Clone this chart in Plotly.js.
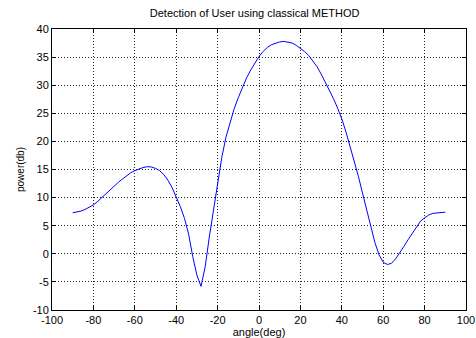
<!DOCTYPE html>
<html>
<head>
<meta charset="utf-8">
<script src="https://cdn.plot.ly/plotly-3.0.1.min.js"></script>
<style>html,body{margin:0;padding:0;background:#fff;}#chart{width:476px;height:338px;}</style>
</head>
<body>
<div id="chart"></div>
<script>
const angles = [-90,-88,-86,-84,-82,-80,-78,-76,-74,-72,-70,-68,-66,-64,-62,-60,-58,-56,-54,-52,-50,-48,-46,-44,-42,-40,-38,-36,-34,-32,-30,-28,-26,-24,-22,-20,-18,-16,-14,-12,-10,-8,-6,-4,-2,0,2,4,6,8,10,12,14,16,18,20,22,24,26,28,30,32,34,36,38,40,42,44,46,48,50,52,54,56,58,60,62,64,66,68,70,72,74,76,78,80,82,84,86,88,90];
const power = [7.3,7.4,7.6,7.9,8.3,8.7,9.3,10.0,10.7,11.4,12.0,12.7,13.3,13.9,14.4,14.8,15.1,15.35,15.5,15.45,15.2,14.8,14.1,13.1,11.8,10.1,8.4,6.3,3.5,-0.5,-3.8,-5.8,-2.3,3.0,8.0,13.0,17.1,20.7,23.5,25.8,27.8,29.6,31.3,32.7,34.0,35.1,36.0,36.7,37.2,37.5,37.7,37.8,37.7,37.5,37.1,36.6,36.0,35.3,34.4,33.3,32.0,30.6,29.1,27.6,25.9,24.0,21.7,19.2,16.6,13.8,10.8,7.7,4.6,2.0,-0.2,-1.5,-1.9,-1.7,-0.9,0.1,1.3,2.5,3.6,4.9,5.8,6.4,6.9,7.2,7.3,7.4,7.4];
const xTicks = [-100,-80,-60,-40,-20,0,20,40,60,80,100];
const yTicks = [-10,-5,0,5,10,15,20,25,30,35,40];
const titleText = 'Detection of User using classical METHOD';
const xLabel = 'angle(deg)';
const yLabel = 'power(db)';

const font = {family: 'Liberation Sans, Arial, sans-serif', size: 11, color: '#000'};
const axisCommon = {
  showline: true, linecolor: '#000', linewidth: 1, mirror: 'ticks',
  ticks: 'inside', ticklen: 4, tickcolor: '#000',
  showgrid: true, gridcolor: '#222', griddash: '1px,2px', gridwidth: 1,
  zeroline: false, tickfont: font
};
Plotly.newPlot('chart', [{
  x: angles, y: power, type: 'scatter', mode: 'lines',
  line: {color: '#0000ff', width: 1}
}], {
  width: 476, height: 338,
  margin: {l: 52, r: 10, t: 29, b: 28},
  paper_bgcolor: '#fff', plot_bgcolor: '#fff',
  showlegend: false,
  font: font,
  title: {text: titleText, font: {family: font.family, size: 11, color: '#000'}, x: 0.535, xanchor: 'center', y: 0.96, yanchor: 'middle'},
  xaxis: Object.assign({}, axisCommon, {
    range: [-100, 100], tickvals: xTicks, ticktext: xTicks.map(String),
    title: {text: xLabel, font: {family: font.family, size: 11, color: '#000'}, standoff: 0}
  }),
  yaxis: Object.assign({}, axisCommon, {
    range: [-10, 40], tickvals: yTicks, ticktext: yTicks.map(String),
    title: {text: yLabel, font: {family: font.family, size: 10, color: '#000'}, standoff: 6}
  })
}, {staticPlot: true});
</script>
</body>
</html>
